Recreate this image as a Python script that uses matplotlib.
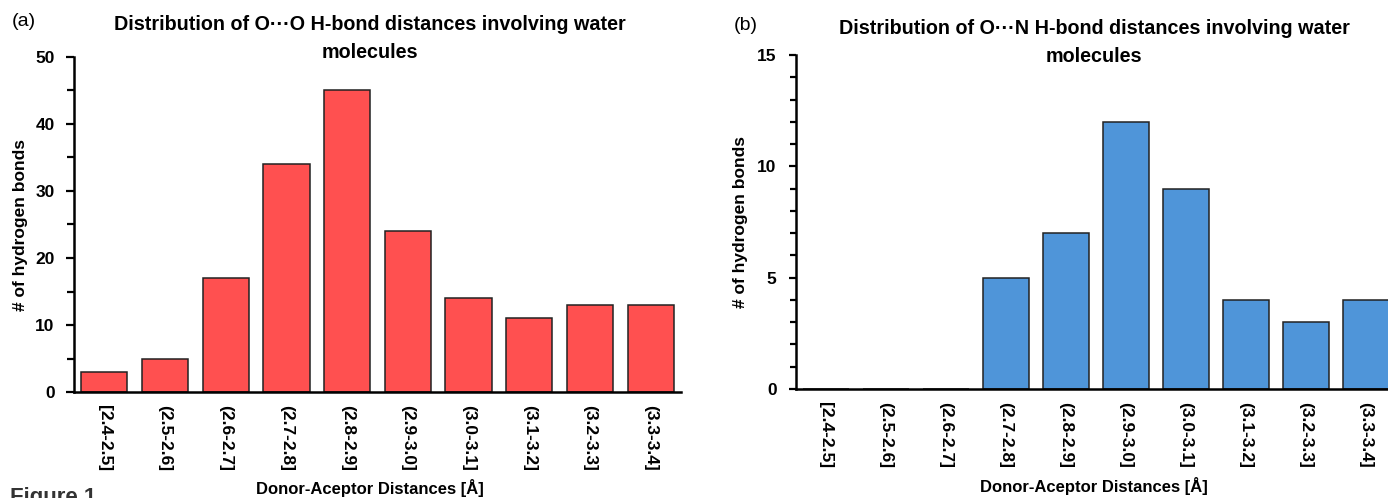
import matplotlib
matplotlib.use("Agg")
import matplotlib.pyplot as plt
from matplotlib.ticker import MultipleLocator

categories = ["[2.4-2.5]", "(2.5-2.6]", "(2.6-2.7]", "(2.7-2.8]", "(2.8-2.9]",
              "(2.9-3.0]", "(3.0-3.1]", "(3.1-3.2]", "(3.2-3.3]", "(3.3-3.4]"]
oo_counts = [3, 5, 17, 34, 45, 24, 14, 11, 13, 13]
on_counts = [0, 0, 0, 5, 7, 12, 9, 4, 3, 4]

title_a = "Distribution of O\u00b7\u00b7\u00b7O H-bond distances involving water\nmolecules"
title_b = "Distribution of O\u00b7\u00b7\u00b7N H-bond distances involving water\nmolecules"
xlabel = "Donor-Aceptor Distances [\u00c5]"
ylabel = "# of hydrogen bonds"

W, H = 1388, 498
fig = plt.figure(figsize=(W / 100, H / 100), dpi=100)

SANS = ["Liberation Sans", "DejaVu Sans"]
plt.rcParams["font.family"] = SANS


def px_axes(left, right, top, bottom):
    return fig.add_axes([left / W, 1 - bottom / H, (right - left) / W, (bottom - top) / H])


def style(ax, ymax, major, minor, ticklen, pad):
    for s in ("top", "right"):
        ax.spines[s].set_visible(False)
    for s in ("left", "bottom"):
        ax.spines[s].set_linewidth(1.8)
        ax.spines[s].set_color("black")
    ax.set_ylim(0, ymax)
    ax.yaxis.set_major_locator(MultipleLocator(major))
    ax.yaxis.set_minor_locator(MultipleLocator(minor))
    ax.tick_params(axis="y", which="major", length=ticklen, width=1.6, direction="out",
                   pad=pad, labelsize=12.5)
    ax.tick_params(axis="y", which="minor", length=ticklen - 1, width=1.6, direction="out")
    ax.tick_params(axis="x", which="both", length=0, pad=9, labelsize=12.5)
    for lab in ax.get_yticklabels():
        lab.set_fontweight("bold")
    ax.set_xticks(range(len(categories)))
    ax.set_xticklabels(categories, rotation=270, fontweight="bold", va="top", ha="center")
    ax.set_xlim(-0.5, len(categories) - 0.5)


# Panel (a)
ax1 = px_axes(74, 681, 57, 392)
ax1.bar(range(len(categories)), oo_counts, width=0.76, color="#FF5050",
        edgecolor="#222222", linewidth=1.1, zorder=2)
style(ax1, 50, 10, 5, 6, 8)
ax1.set_ylabel(ylabel, fontsize=12.5, fontweight="bold")
ax1.yaxis.set_label_coords((28 - 74) / 607, 0.5)

# Panel (b)
ax2 = px_axes(796, 1396, 55, 389)
ax2.bar(range(len(categories)), on_counts, width=0.77, color="#4F95D9",
        edgecolor="#222222", linewidth=1.1, zorder=2)
style(ax2, 15, 5, 1, 5, 9)
ax2.set_ylabel(ylabel, fontsize=12.5, fontweight="bold")
ax2.yaxis.set_label_coords((748 - 796) / 600, 0.5)

# Titles
fig.text(370 / W, 1 - 38 / H, title_a, ha="center", va="center", fontsize=14.2,
         fontweight="bold", linespacing=1.6)
fig.text(1094 / W, 1 - 42 / H, title_b, ha="center", va="center", fontsize=14.2,
         fontweight="bold", linespacing=1.6)

# Panel letters
fig.text(12 / W, 1 - 22 / H, "(a)", ha="left", va="center", fontsize=14)
fig.text(734 / W, 1 - 25 / H, "(b)", ha="left", va="center", fontsize=14)

# x labels
fig.text(370 / W, 1 - 497 / H, xlabel, ha="center", va="bottom", fontsize=12,
         fontweight="bold")
fig.text(1094 / W, 1 - 495 / H, xlabel, ha="center", va="bottom", fontsize=12,
         fontweight="bold")

# Partial caption at the bottom edge (cut off in the reference as well)
fig.text(10 / W, 1 - 487 / H, "Figure 1", ha="left", va="top", fontsize=16,
         fontweight="bold", color="#333333")

fig.savefig("out.png", dpi=100)
